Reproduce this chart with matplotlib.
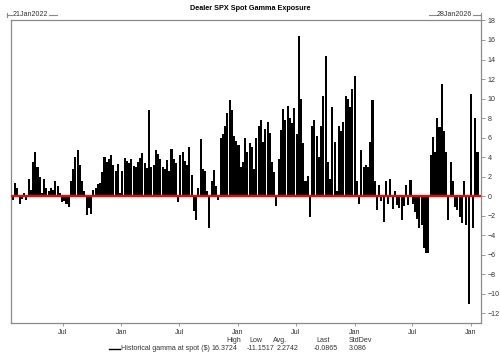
import matplotlib
matplotlib.use("Agg")
import matplotlib.pyplot as plt
from matplotlib.lines import Line2D
import pandas as pd

# ---- data (weekly readings of the chart) ----
end_date = "2026-01-28"
gamma = [
    -0.4, 1.3, 0.8, -0.8, -0.3, 0.3, -0.4, 1.8, 0.6, 3.5, 4.5, 3.0, 2.0, 0.3, 1.8, 0.8, 0.5, 0.8, 0.6, 1.6,
    1.0, 0.3, -0.6, -0.5, -0.8, -1.1, 1.5, 2.8, 4.0, 4.7, 3.2, 1.5, 0.5, -1.9, -1.2,
    -1.8, 0.6, 0.8, 1.2, 1.3, 2.5, 4.0, 3.5, 3.8, 4.2, 3.2, 2.6, 3.3, 0.3, 2.6, 3.9, 3.6, 3.4, 3.8, 3.1,
    3.0, 3.5, 3.9, 4.4, 3.4, 2.9, 8.8, 3.0, 3.2, 4.7, 4.3, 3.8, 3.0, 2.8, 3.7,
    2.6, 4.8, 3.8, 3.4, -0.6, 4.2, 4.5, 3.6, 3.2, 5.0, 2.2, -1.5, -2.4, 0.8, 5.9, 2.8, 2.6, 0.5, -3.3, 1.6,
    2.7, 1.0, -0.4, 6.0, 6.4, 7.2, 8.5, 9.8, 8.8, 6.2, 5.7, 5.2, 3.0, 3.5, 6.0,
    4.5, 5.4, 5.0, 2.8, 6.0, 7.2, 7.8, 5.5, 6.9, 7.6, 6.5, 3.5, 2.5, -1.0, 3.8, 6.8, 8.9, 7.8, 9.2, 8.0,
    7.5, 9.0, 6.4, 16.4, 10.0, 5.4, 1.5, 2.1, -2.1, 7.2, 7.8, 6.2, 4.0, 7.2, 10.3,
    14.4, 3.5, 1.8, 9.1, 5.5, 0.5, 7.2, 6.7, 7.6, 10.3, 10.0, 9.1, 11.0, 12.3, 1.5, -0.8, 4.7, 3.0, 3.2, 3.0,
    5.5, 9.8, 1.5, -1.4, 1.1, -0.5, -2.6, 1.6, -0.8, 1.8, -1.3, 0.5, -0.9, -1.2, -2.4,
    -1.0, 1.1, -0.9, 1.7, -0.8, -1.6, -2.3, -3.3, -3.0, -5.3, -5.8, -5.8, 4.2, 6.1, 4.5, 8.0, 7.1, 11.5, 6.7, 4.5,
    -2.4, 3.5, 1.5, -1.1, -1.4, -2.1, -2.8, 1.5, -3.0, -11.1, 10.5, -3.3, 8.0, 4.5, -0.0865,
]
dates = pd.date_range(end=end_date, periods=len(gamma), freq="7D")

tick_dates = ["2022-07-01", "2023-01-01", "2023-07-01", "2024-01-01",
              "2024-07-01", "2025-01-01", "2025-07-01", "2026-01-01"]
tick_labels = ["Jul", "Jan", "Jul", "Jan", "Jul", "Jan", "Jul", "Jan"]
y_ticks = list(range(-12, 19, 2))

title = "Dealer SPX Spot Gamma Exposure"
start_label = "21Jan2022"
end_label = "28Jan2026"
series_name = "Historical gamma at spot ($)"
stat_names = ["High", "Low", "Avg.", "Last", "StdDev"]
stat_values = ["16.3724", "-11.1517", "2.2742", "-0.0865", "3.086"]

# ---- figure ----
plt.rcParams["font.family"] = ["Liberation Sans", "DejaVu Sans"]
FS = 5.1
GRAY = "#8a8a8a"
TXT = "#333333"
W, H = 500, 363
fig = plt.figure(figsize=(5.0, 3.63), dpi=100)
ax = fig.add_axes([11 / W, 1 - 323 / H, (481 - 11) / W, (323 - 19.5) / H])

ax.bar(dates, gamma, width=6.4, color="black", edgecolor="none", zorder=2)
ax.axhline(0, color="#ff0000", lw=1.6, zorder=3)

ax.set_xlim(pd.Timestamp("2022-01-20"), pd.Timestamp("2026-02-01"))
ax.set_ylim(-13.0, 18.1)

ax.set_xticks([pd.Timestamp(d) for d in tick_dates])
ax.set_xticklabels(tick_labels)
ax.set_yticks(y_ticks)
ax.yaxis.tick_right()
ax.tick_params(axis="y", which="both", direction="out", length=3, width=0.6,
               colors=GRAY, labelcolor=TXT, labelsize=FS, pad=2)
ax.tick_params(axis="x", which="both", direction="out", length=2, width=0.6,
               colors=GRAY, labelcolor=TXT, labelsize=FS, pad=2)
for s in ax.spines.values():
    s.set_color(GRAY)
    s.set_linewidth(0.9)

# ---- title and range annotations ----
def fx(x):
    return x / W

def fy(y):
    return 1 - y / H

fig.text(fx(250), fy(9), title, ha="center", va="center", fontsize=FS + 0.1,
         fontweight="bold", color="black")

ann_y = 14.7
fig.text(fx(12.7), fy(ann_y), start_label, ha="left", va="center", fontsize=FS, color=TXT)
fig.text(fx(471.8), fy(ann_y), end_label, ha="right", va="center", fontsize=FS, color=TXT)
lines = [
    ([7, 7], [12.5, 17]), ([7, 12], [ann_y, ann_y]), ([49, 57], [ann_y, ann_y]),
    ([429, 436.5], [ann_y, ann_y]), ([472.5, 481], [ann_y, ann_y]),
    ([481, 481], [12.5, 20]),
]
for xs, ys in lines:
    fig.add_artist(Line2D([fx(v) for v in xs], [fy(v) for v in ys],
                          color=GRAY, lw=0.8, transform=fig.transFigure))

# ---- legend with stats ----
leg_y = 349
head_y = 340
fig.add_artist(Line2D([fx(109), fx(120)], [fy(leg_y), fy(leg_y)], color="black", lw=1.0,
                      transform=fig.transFigure))
fig.text(fx(121), fy(leg_y), series_name, ha="left", va="center", fontsize=FS, color=TXT)
val_x = [212, 247, 277, 314, 349]
head_x = [226, 249, 273, 316, 349]
for hx, vx, name, val in zip(head_x, val_x, stat_names, stat_values):
    fig.text(fx(hx), fy(head_y), name, ha="left", va="center", fontsize=FS, color=TXT)
    fig.text(fx(vx), fy(leg_y), val, ha="left", va="center", fontsize=FS, color=TXT)

fig.savefig("out.png", dpi=100)
